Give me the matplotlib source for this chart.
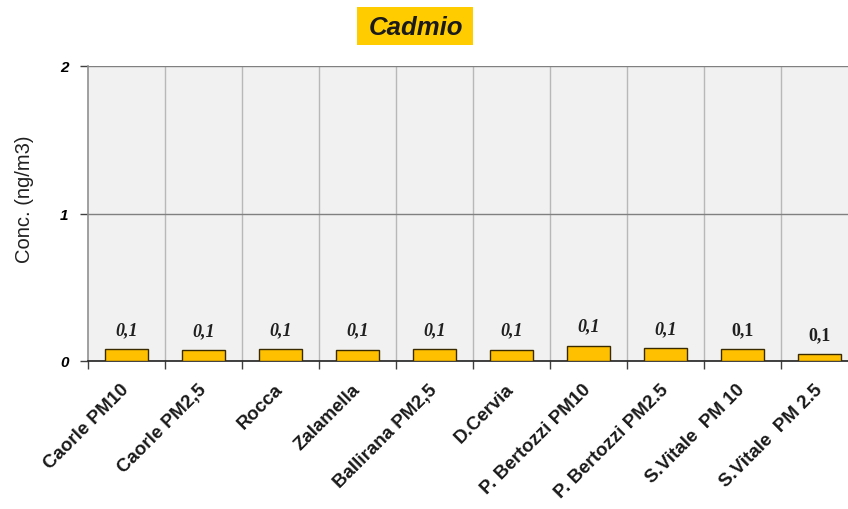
import matplotlib
matplotlib.use("Agg")
import matplotlib.pyplot as plt
import matplotlib.transforms as mtransforms
from matplotlib.patches import Rectangle

categories = ["Caorle PM10", "Caorle PM2,5", "Rocca", "Zalamella", "Ballirana PM2,5",
              "D.Cervia", "P. Bertozzi PM10", "P. Bertozzi PM2.5", "S.Vitale  PM 10", "S.Vitale  PM 2.5"]
values = [0.082, 0.075, 0.080, 0.076, 0.080, 0.076, 0.104, 0.088, 0.082, 0.046]
labels = ["0,1"] * 10
italic_labels = [True] * 8 + [False] * 2
yticks = [0, 1, 2]

fig = plt.figure(figsize=(8.48, 5.10), dpi=100)
ax = fig.add_axes([88/848, (510-362)/510, 770/848, (362-67)/510])
ax.set_facecolor("#f1f1f1")

x = list(range(len(categories)))
ax.bar(x, values, width=0.57, color="#FFC000", edgecolor="#3a2a00", linewidth=1.0, zorder=3)

ax.set_xlim(-0.5, len(categories) - 0.5)
ax.set_ylim(0, 2)

for b in range(1, len(categories)):
    ax.axvline(b - 0.5, color="#b8b8b8", linewidth=1.0, zorder=1)
for yv in yticks[1:]:
    ax.axhline(yv, color="#808080", linewidth=1.0, zorder=1)

for s in ["top", "right"]:
    ax.spines[s].set_visible(False)
ax.spines["left"].set_color("#909090")
ax.spines["left"].set_linewidth(1.2)
ax.spines["bottom"].set_color("#202020")
ax.spines["bottom"].set_linewidth(1.2)

ax.set_yticks(yticks)
ax.set_yticklabels([str(t) for t in yticks], fontfamily="Liberation Sans",
                   fontweight="bold", fontstyle="italic", fontsize=11)
ax.tick_params(axis="y", length=6, width=1, color="#404040", pad=8)

ax.set_xticks([b - 0.5 for b in range(len(categories) + 1)], minor=False)
ax.set_xticklabels([])
ax.tick_params(axis="x", length=6, width=1, color="#404040", direction="out")
ax.set_xticks(x, minor=True)
ax.set_xticklabels(categories, minor=True, rotation=45, ha="right", va="top",
                   rotation_mode="anchor", fontfamily="Liberation Sans",
                   fontweight="bold", fontsize=13.5, color="#1a1a1a")
ax.tick_params(axis="x", which="minor", length=0, pad=14)
offset = mtransforms.ScaledTranslation(-6/100, 0, fig.dpi_scale_trans)
for lab in ax.get_xticklabels(minor=True):
    lab.set_transform(lab.get_transform() + offset)

for xi, v, lab, it in zip(x, values, labels, italic_labels):
    ax.annotate(lab, (xi, v), xytext=(0, 8), textcoords="offset points",
                ha="center", va="bottom", fontfamily="Liberation Serif",
                fontweight="bold", fontstyle="italic" if it else "normal",
                fontsize=13, color="#202020", zorder=4)

fig.text(24/848, 1 - 199/510, "Conc. (ng/m3)", rotation=90, ha="center", va="center",
         fontfamily="Liberation Sans", fontsize=14.5, color="#202020")

fig.patches.append(Rectangle((357/848, 1 - 46/510), 116/848, 38/510,
                             transform=fig.transFigure, facecolor="#FFCC00",
                             edgecolor="none", zorder=0))
fig.text(416/848, 1 - 28/510, "Cadmio", ha="center", va="center",
         fontfamily="Liberation Sans", fontweight="bold", fontstyle="italic",
         fontsize=18.5, color="#1a1a1a", zorder=2)

fig.savefig("out.png", dpi=100)
